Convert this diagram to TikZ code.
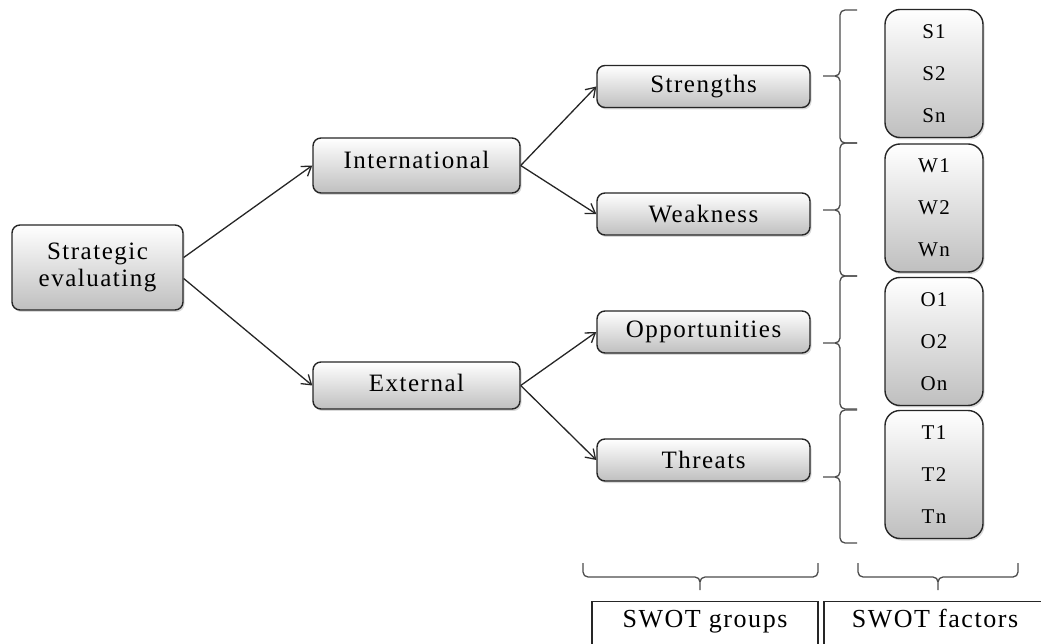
\documentclass[tikz,border=0pt]{standalone}
\usepackage{fontspec}
\setmainfont{Liberation Serif}[LetterSpace=6]
\usetikzlibrary{positioning}
\usetikzlibrary{arrows.meta,shadows}

\tikzset{
	swotbox/.style={draw=black!85, line width=1.4pt, rounded corners=8pt, top color=white, bottom color=black!25, drop shadow={shadow xshift=1.5pt, shadow yshift=-2pt, opacity=.3}, align=center, inner sep=0pt, font=\fontsize{25}{27}\selectfont},
	groupbox/.style={swotbox, minimum width=213pt, minimum height=42pt},
	factorbox/.style={swotbox, rounded corners=15pt, minimum width=98pt, minimum height=128pt, font=\fontsize{21}{42}\selectfont},
	labelbox/.style={draw=black!85, line width=1.3pt, anchor=north, inner ysep=0pt, text height=26pt, text depth=30pt, font=\fontsize{26}{28}\selectfont},
	swotarrow/.style={line width=1.3pt, black!85, -{Straight Barb[length=9pt, width=12pt]}},
	swotbrace/.style={line width=1.3pt, black!70, rounded corners=5pt}
}

\begin{document}
\begin{tikzpicture}[x=1pt, y=1pt]
				\useasboundingbox (0,0) rectangle (1041,643);
				\node[swotbox, minimum width=171pt, minimum height=85pt](strat) at (97.5,375.5) {Strategic\\evaluating};
				\node[swotbox, minimum width=207pt, minimum height=55pt, text depth=12pt](intl) at (416.5,477.5) {International};
				\node[swotbox, minimum width=207pt, minimum height=47pt, text depth=6pt](ext) at (416.5,257.5) {External};
				\node[groupbox](str) at (703.5,556.5) {Strengths};
				\node[groupbox](weak) at (703.5,429) {Weakness};
				\node[groupbox](opp) at (703.5,311) {Opportunities};
				\node[groupbox](thr) at (703.5,183) {Threats};
				\node[factorbox](sfac) at (934,569.5) {S1\\S2\\Sn};
				\node[factorbox](wfac) at (934,435) {W1\\W2\\Wn};
				\node[factorbox](ofac) at (934,301.5) {O1\\O2\\On};
				\node[factorbox](tfac) at (934,168.5) {T1\\T2\\Tn};
				\node[labelbox, minimum width=226pt](grp) at (705,42) {SWOT groups};
				\node[labelbox, minimum width=222pt](fac) at (935,42) {SWOT factors};

				\draw[swotarrow] ([yshift=10pt]strat.east) to (intl.west);
				\draw[swotarrow] ([yshift=-11pt]strat.east) to (ext.west);
				\draw[swotarrow] (intl.east) to (str.west);
				\draw[swotarrow] (intl.east) to (weak.west);
				\draw[swotarrow] (ext.east) to (opp.west);
				\draw[swotarrow] (ext.east) to (thr.west);

				\draw[swotbrace] (857,633) -| (840,567) -- (823,567) (823,567) -- (840,567) |- (857,500);
				\draw[swotbrace] (857,500) -| (840,433) -- (823,433) (823,433) -- (840,433) |- (857,367);
				\draw[swotbrace] (857,367) -| (840,300) -- (823,300) (823,300) -- (840,300) |- (857,234);
				\draw[swotbrace] (857,233) -| (840,166) -- (823,166) (823,166) -- (840,166) |- (857,100);
				\draw[swotbrace] (583,80) |- (700,66) -- (700,53) (700,53) -- (700,66) -| (818,80);
				\draw[swotbrace] (858,80) |- (938,66) -- (938,53) (938,53) -- (938,66) -| (1018,80);
			\end{tikzpicture}
\end{document}
